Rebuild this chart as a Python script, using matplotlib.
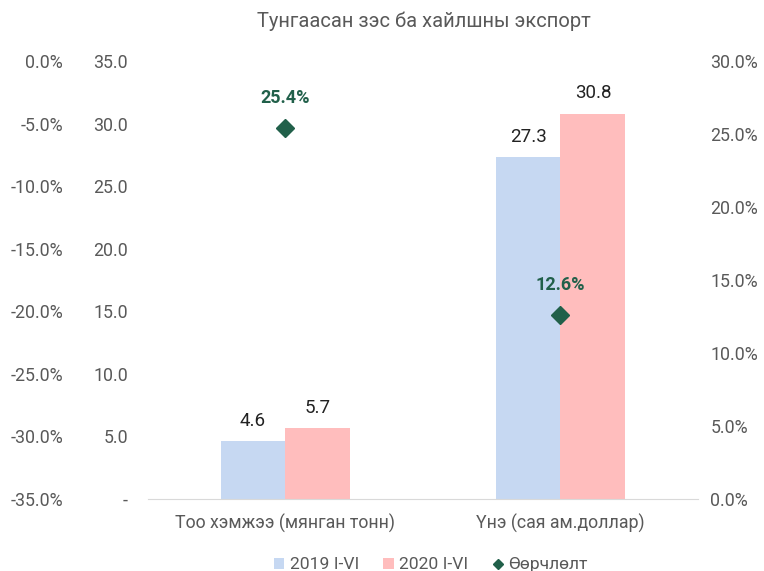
import matplotlib
matplotlib.use("Agg")
import matplotlib.pyplot as plt
from matplotlib.ticker import FuncFormatter, MultipleLocator
import numpy as np

plt.rcParams['font.family'] = ['Roboto', 'DejaVu Sans']

# data
categories = ['Тоо хэмжээ (мянган тонн)', 'Үнэ (сая ам.доллар)']
val_2019 = [4.6, 27.3]
val_2020 = [5.7, 30.8]
change = [0.254, 0.126]
series_names = ['2019 I-VI', '2020 I-VI', 'Өөрчлөлт']
title = 'Тунгаасан зэс ба хайлшны экспорт'

c2019 = '#C6D8F2'
c2020 = '#FFBDBD'
cdiam = '#21604A'
tcol = '#595959'

fig = plt.figure(figsize=(7.64, 5.71), dpi=100)
ax = fig.add_axes([0.1937, 0.1261, 0.7199, 0.7671])

x = np.arange(len(categories))
w = 0.236
b1 = ax.bar(x - w / 2, val_2019, w, color=c2019, label=series_names[0])
b2 = ax.bar(x + w / 2, val_2020, w, color=c2020, label=series_names[1])
for bars in (b1, b2):
    for r in bars:
        ax.annotate('%.1f' % r.get_height(), (r.get_x() + r.get_width() / 2, r.get_height()),
                    xytext=(0, 8), textcoords='offset points', ha='center', va='bottom',
                    fontsize=13.5, color='#222222')

ax.set_xlim(-0.5, 1.5)
ax.set_ylim(0, 35)
ax.yaxis.set_major_locator(MultipleLocator(5))
ax.yaxis.set_major_formatter(FuncFormatter(lambda v, p: '-' if abs(v) < 1e-9 else '%.1f' % v))
ax.set_xticks(x)
ax.set_xticklabels(categories)
ax.tick_params(axis='x', length=0, pad=11, labelsize=12.8, labelcolor=tcol)
ax.tick_params(axis='y', length=0, pad=14.4, labelsize=12.8, labelcolor=tcol)
for s in ['top', 'right', 'left']:
    ax.spines[s].set_visible(False)
ax.spines['bottom'].set_color('#D9D9D9')

# right percent axis with the change markers
ax2 = ax.twinx()
ln, = ax2.plot(x, change, linestyle='none', marker='D', markersize=9.5, color=cdiam,
               label=series_names[2])
for xi, c in zip(x, change):
    ax2.annotate('%.1f%%' % (c * 100), (xi, c), xytext=(0, 15), textcoords='offset points',
                 ha='center', va='bottom', fontsize=13, fontweight='bold', color=cdiam)
ax2.set_ylim(0, 0.30)
ax2.yaxis.set_major_locator(MultipleLocator(0.05))
ax2.yaxis.set_major_formatter(FuncFormatter(lambda v, p: '%.1f%%' % (v * 100)))
ax2.tick_params(axis='y', length=0, pad=9, labelsize=12.8, labelcolor=tcol)
for s in ax2.spines.values():
    s.set_visible(False)

# far-left percent axis
ax3 = ax.twinx()
ax3.yaxis.set_ticks_position('left')
ax3.yaxis.set_label_position('left')
ax3.spines['left'].set_position(('outward', 46.8))
ax3.set_ylim(-0.35, 0)
ax3.yaxis.set_major_locator(MultipleLocator(0.05))
ax3.yaxis.set_major_formatter(FuncFormatter(lambda v, p: '%.1f%%' % (v * 100) if abs(v) > 1e-9 else '0.0%'))
ax3.tick_params(axis='y', length=0, pad=14.4, labelsize=12.8, labelcolor=tcol)
for s in ax3.spines.values():
    s.set_visible(False)

fig.suptitle(title, x=0.555, y=0.98, fontsize=14.5, color=tcol)

fig.legend(handles=[b1, b2, ln], labels=series_names, loc='lower center',
           bbox_to_anchor=(0.564, -0.03), ncol=3, frameon=False, fontsize=12.6,
           handlelength=0.6, handleheight=0.6, handletextpad=0.3, columnspacing=1.4,
           labelcolor=tcol)
for h in fig.legends[0].legend_handles[2:]:
    h.set_markersize(5.5)

fig.savefig('out.png', dpi=100)
